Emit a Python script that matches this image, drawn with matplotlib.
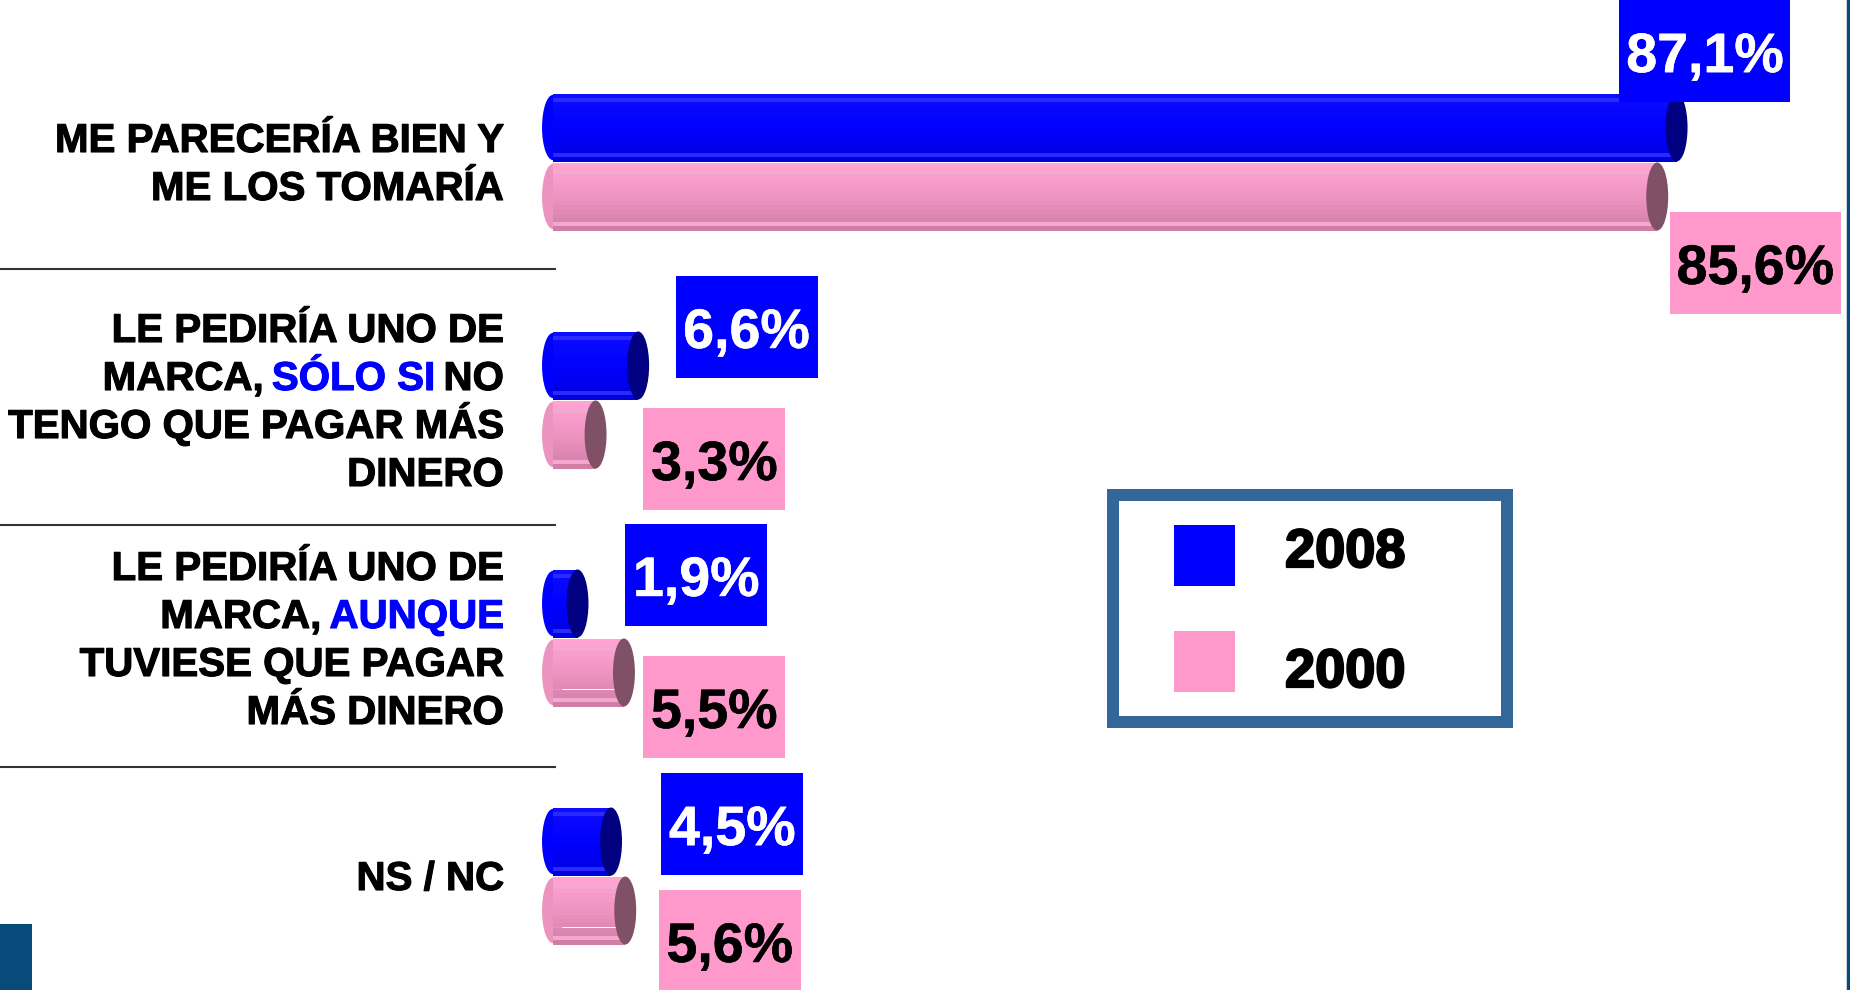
import re
import numpy as np
import matplotlib
matplotlib.use("Agg")
import matplotlib.pyplot as plt
import matplotlib.patheffects as pe
from matplotlib.patches import Ellipse, Rectangle
from matplotlib.colors import to_rgb

plt.rcParams["font.family"] = ["Liberation Sans", "DejaVu Sans"]

# words inside [ ] are written in blue
categories = [
    ["ME PARECERÍA BIEN Y", "ME LOS TOMARÍA"],
    ["LE PEDIRÍA UNO DE", "MARCA, [SÓLO SI] NO", "TENGO QUE PAGAR MÁS", "DINERO"],
    ["LE PEDIRÍA UNO DE", "MARCA, [AUNQUE]", "TUVIESE QUE PAGAR", "MÁS DINERO"],
    ["NS / NC"],
]
years = ["2008", "2000"]
values_2008 = [87.1, 6.6, 1.9, 4.5]
values_2000 = [85.6, 3.3, 5.5, 5.6]

# value boxes were placed by hand on the slide (percent, row units)
box_pos_2008 = [(89.3, -0.466), (15.0, 0.693), (11.1, 1.735), (13.9, 2.782)]
box_pos_2000 = [(93.2, 0.424), (12.5, 1.248), (12.5, 2.290), (13.7, 3.273)]

W, H = 1850, 990
PX_PCT = 12.9    # pixels per percent
X0 = 553         # pixel x of 0 %
ROW_PX = 238     # pixels between rows
Y0 = 162         # pixel y of first row

BLUE = "#0000ff"
PINK = "#ff99cc"
FRAME = "#336699"


def fmt(v):
    return f"{v:.1f}%".replace(".", ",")


def shades(top, mid, bottom, n=16):
    top, mid, bottom = map(np.array, map(to_rgb, (top, mid, bottom)))
    out = []
    for k in range(n):
        t = k / (n - 1)
        if t < 0.5:
            c = top + (mid - top) * t * 2
        else:
            c = mid + (bottom - mid) * (t - 0.5) * 2
        out.append(tuple(c))
    return out


def cylinder(ax, y, value, h, colors, cap):
    n = len(colors)
    ys = y - h / 2 + (np.arange(n) + 0.5) * h / n
    ax.add_patch(Ellipse((0, y), 1.7, h * 0.96, color=colors[n // 2], lw=0, zorder=2))
    ax.barh(ys, value, height=h / n, color=colors, lw=0, zorder=3)
    ax.add_patch(Ellipse((value, y), 1.7, h, color=cap, lw=0, zorder=4))


def bolder(color, w=1.0):
    return [pe.withStroke(linewidth=w, foreground=color)]


fig = plt.figure(figsize=(W / 100, H / 100), dpi=100)
ax = fig.add_axes([0, 0, 1, 1])
ax.set_xlim(-X0 / PX_PCT, (W - X0) / PX_PCT)
ax.set_ylim((H - Y0) / ROW_PX, -Y0 / ROW_PX)
ax.axis("off")

rows = np.arange(len(categories))
bar_h = 68 / ROW_PX
off = 34.5 / ROW_PX

blue_cols = shades("#0c0cff", "#0000ff", "#0000de")
pink_cols = shades("#ffa4d3", "#ee94c2", "#d07ea6")
for i in [1, 14]:
    blue_cols[i] = to_rgb("#2a2aff")
for i in [2, 14]:
    pink_cols[i] = to_rgb("#f4a8cf")

for r in rows:
    cylinder(ax, r - off, values_2008[r], bar_h, blue_cols, "#000080")
    cylinder(ax, r + off, values_2000[r], bar_h, pink_cols, "#7f5066")

# value boxes
box_h = 102 / ROW_PX
for vals, pos, face, tc in [(values_2008, box_pos_2008, BLUE, "white"),
                            (values_2000, box_pos_2000, PINK, "black")]:
    for v, (bx, by) in zip(vals, pos):
        s = fmt(v)
        w = (171 if len(s) > 4 else 142) / PX_PCT
        ax.add_patch(Rectangle((bx - w / 2, by - box_h / 2), w, box_h,
                               color=face, lw=0, zorder=5))
        ax.text(bx, by + 21 / ROW_PX, s, ha="center", va="baseline",
                fontsize=40, fontweight="bold", color=tc, zorder=6,
                path_effects=bolder(tc, 0.4))

# separators between rows
for sy in [269, 525, 767]:
    ax.plot([-X0 / PX_PCT, 2 / PX_PCT], [(sy - Y0) / ROW_PX] * 2,
            color="#333333", lw=1.5, zorder=1)

# category labels, drawn piece by piece so some words can be blue
renderer = fig.canvas.get_renderer()
inv = ax.transData.inverted()
label_font = dict(fontsize=29, fontweight="bold")
a1 = ax.text(0, 0, "AA", **label_font)
a2 = ax.text(0, 0, "A A", **label_font)
space_px = a2.get_window_extent(renderer).width - a1.get_window_extent(renderer).width
a1.remove()
a2.remove()

right_px = 504
line_h = 48 / ROW_PX
for r, lines in enumerate(categories):
    n = len(lines)
    for k, line in enumerate(lines):
        yb = r + (k - (n - 1) / 2) * line_h + 14 / ROW_PX
        tokens = [t for t in re.split(r"(\[[^\]]*\])", line) if t]
        x = right_px
        for tok in reversed(tokens):
            col = BLUE if tok.startswith("[") else "black"
            word = tok.strip("[]")
            x -= (len(word) - len(word.rstrip())) * space_px
            core = word.strip()
            if core:
                t = ax.text(inv.transform((x, 0))[0], yb, core, ha="right",
                            va="baseline", color=col,
                            path_effects=bolder(col, 0.8), **label_font)
                x -= t.get_window_extent(renderer).width
            x -= (len(word) - len(word.lstrip())) * space_px

# legend and slide decorations, in pixel coordinates
lax = fig.add_axes([0, 0, 1, 1])
lax.set_xlim(0, W)
lax.set_ylim(H, 0)
lax.axis("off")
lax.add_patch(Rectangle((1113, 495), 394, 227, facecolor="white",
                        edgecolor=FRAME, lw=12 * 0.72))
for yy, base, col, year in [(525, 567, BLUE, years[0]), (631, 687, PINK, years[1])]:
    lax.add_patch(Rectangle((1174, yy), 61, 61, color=col, lw=0))
    lax.text(1285, base, year, ha="left", va="baseline",
             fontsize=39, fontweight="bold", color="black",
             path_effects=bolder("black", 1.6))

lax.add_patch(Rectangle((0, 924), 32, 66, color="#064b79", lw=0))
lax.plot([1848, 1848], [0, H], color="#0a4a7a", lw=2.5)

fig.savefig("out.png", dpi=100)
